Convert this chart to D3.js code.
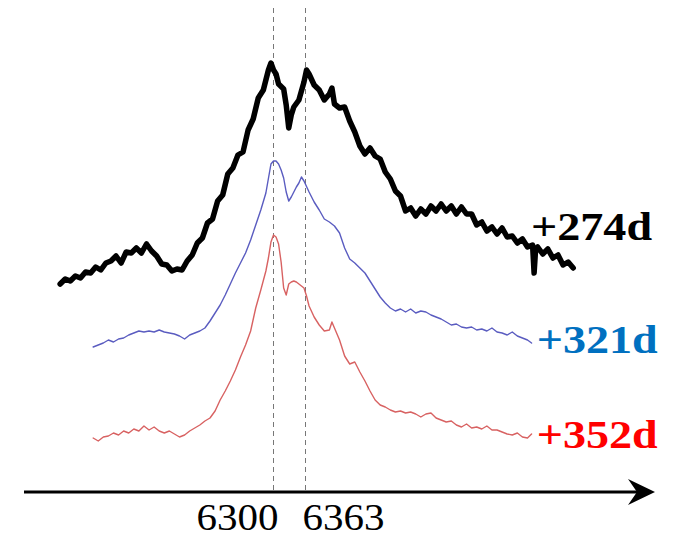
<!DOCTYPE html>
<html>
<head>
<meta charset="utf-8">
<script src="https://cdn.jsdelivr.net/npm/d3@7"></script>
<style>
  body { margin: 0; background: #fff; }
  svg { display: block; }
</style>
</head>
<body>
<script>
const svgWidth = 674; //Width of SVG.
const svgHeight = 539; //Height of SVG.

//Epochs shown, top to bottom.
const epochs = ["+274d", "+321d", "+352d"];
const epochColours = ["#000000", "#0070c0", "#ff0000"]; //Label colours.
const lineColours = ["#000000", "#5a5cc0", "#d86262"]; //Spectrum colours.

//Marked lines ([O I] doublet) and their tick labels.
const tickValues = [6300, 6363];
const tickLabels = ["6300", "6363"];

//Spectra: [wavelength (A), scaled flux + offset].
const spec274 = [[5880,2.08],[5890,2.13],[5900,2.11],[5910,2.16],[5920,2.14],[5930,2.20],[5940,2.19],[5950,2.25],
  [5960,2.22],[5970,2.29],[5980,2.31],[5990,2.36],[6000,2.29],[6010,2.40],[6020,2.39],[6030,2.44],[6040,2.39],
  [6050,2.48],[6060,2.41],[6070,2.36],[6080,2.28],[6090,2.27],[6100,2.21],[6110,2.23],[6120,2.22],[6130,2.31],
  [6140,2.37],[6150,2.49],[6160,2.54],[6170,2.69],[6180,2.73],[6190,2.91],[6200,2.97],[6210,3.18],[6220,3.24],
  [6230,3.37],[6240,3.40],[6250,3.62],[6260,3.73],[6270,3.94],[6280,4.02],[6290,4.22],[6295,4.29],[6300,4.22],
  [6305,4.18],[6310,4.08],[6320,4.03],[6325,3.87],[6330,3.64],[6335,3.77],[6340,3.85],[6350,3.92],[6360,4.10],
  [6365,4.22],[6370,4.18],[6380,4.07],[6390,4.02],[6400,3.92],[6410,3.98],[6415,4.04],[6420,3.88],[6430,3.84],
  [6440,3.85],[6450,3.71],[6460,3.60],[6470,3.46],[6480,3.38],[6490,3.44],[6500,3.36],[6510,3.33],[6520,3.20],
  [6530,3.13],[6540,3.01],[6550,2.96],[6560,2.81],[6570,2.84],[6580,2.76],[6590,2.83],[6600,2.78],[6610,2.86],
  [6620,2.81],[6630,2.88],[6640,2.81],[6650,2.86],[6660,2.78],[6670,2.85],[6680,2.78],[6690,2.78],[6700,2.67],
  [6710,2.70],[6720,2.61],[6730,2.65],[6740,2.58],[6750,2.64],[6760,2.55],[6770,2.56],[6780,2.49],[6790,2.53],
  [6800,2.45],[6810,2.47],[6813,2.19],[6816,2.43],[6820,2.45],[6830,2.38],[6840,2.43],[6850,2.34],[6860,2.37],
  [6870,2.27],[6880,2.30],[6890,2.24]];

const spec321 = [[5945,1.45],[5955,1.47],[5965,1.49],[5975,1.52],[5985,1.50],[5995,1.53],[6005,1.54],[6015,1.57],
  [6025,1.59],[6035,1.61],[6045,1.60],[6055,1.61],[6065,1.60],[6075,1.62],[6085,1.60],[6095,1.59],[6105,1.58],
  [6115,1.56],[6125,1.53],[6135,1.57],[6145,1.59],[6155,1.61],[6165,1.64],[6175,1.71],[6185,1.79],[6195,1.87],
  [6205,1.97],[6215,2.08],[6225,2.19],[6235,2.29],[6245,2.39],[6255,2.52],[6265,2.67],[6275,2.82],[6285,2.99],
  [6295,3.28],[6300,3.31],[6305,3.31],[6310,3.28],[6315,3.22],[6320,3.14],[6325,3.00],[6330,2.91],[6335,2.95],
  [6340,3.00],[6345,3.05],[6350,3.09],[6355,3.15],[6360,3.11],[6370,3.00],[6380,2.90],[6390,2.82],[6400,2.73],
  [6410,2.70],[6420,2.66],[6430,2.59],[6440,2.44],[6450,2.33],[6460,2.29],[6470,2.24],[6480,2.19],[6490,2.11],
  [6500,2.03],[6510,1.95],[6520,1.89],[6530,1.84],[6540,1.81],[6550,1.83],[6560,1.80],[6570,1.83],[6580,1.79],
  [6590,1.81],[6600,1.80],[6610,1.77],[6620,1.75],[6630,1.73],[6640,1.70],[6650,1.67],[6660,1.68],[6670,1.65],
  [6680,1.64],[6690,1.65],[6700,1.62],[6710,1.63],[6720,1.61],[6730,1.64],[6740,1.60],[6750,1.59],[6760,1.57],
  [6770,1.60],[6780,1.56],[6790,1.54],[6800,1.52],[6808,1.49]];

const spec352 = [[5945,0.54],[5955,0.51],[5965,0.55],[5975,0.56],[5985,0.59],[5995,0.57],[6005,0.61],[6015,0.59],
  [6025,0.63],[6035,0.61],[6045,0.66],[6055,0.62],[6065,0.65],[6075,0.61],[6085,0.59],[6095,0.61],[6105,0.58],
  [6115,0.55],[6125,0.57],[6135,0.61],[6145,0.64],[6155,0.67],[6165,0.71],[6175,0.74],[6185,0.81],[6195,0.92],
  [6205,1.01],[6215,1.11],[6225,1.22],[6235,1.35],[6245,1.47],[6255,1.61],[6265,1.84],[6275,2.02],[6285,2.21],
  [6290,2.34],[6295,2.50],[6300,2.57],[6305,2.55],[6310,2.48],[6315,2.30],[6320,2.04],[6325,1.97],[6330,2.08],
  [6335,2.10],[6340,2.11],[6345,2.10],[6350,2.08],[6355,2.06],[6360,2.04],[6365,1.96],[6370,1.86],[6380,1.75],
  [6390,1.67],[6400,1.61],[6410,1.62],[6415,1.70],[6420,1.64],[6430,1.52],[6440,1.36],[6450,1.28],[6460,1.30],
  [6470,1.20],[6480,1.11],[6490,1.01],[6500,0.92],[6510,0.87],[6520,0.85],[6530,0.82],[6540,0.80],[6550,0.81],
  [6560,0.79],[6570,0.80],[6580,0.78],[6590,0.75],[6600,0.78],[6610,0.79],[6620,0.74],[6630,0.72],[6640,0.70],
  [6650,0.71],[6660,0.67],[6670,0.65],[6680,0.68],[6690,0.64],[6700,0.65],[6710,0.63],[6720,0.66],[6730,0.62],
  [6740,0.62],[6750,0.60],[6760,0.58],[6770,0.57],[6780,0.59],[6790,0.55],[6800,0.54],[6808,0.58]];

const spectra = [spec274, spec321, spec352];
const lineWidths = [5.5, 1.4, 1.4]; //Oldest epoch drawn thick.

const xScale = d3.scaleLinear() //Wavelength to pixels.
                 .domain([5800, 6900])
                 .range([19.5, 578.3]);

const yScale = d3.scaleLinear() //Flux (with offsets) to pixels.
                 .domain([0, 4.8])
                 .range([492, 12]);

const axisY = yScale(0);

let svgContainer = d3.select("body")
                     .append("svg")
                     .attr("width", svgWidth)
                     .attr("height", svgHeight);

//Dashed markers at the doublet.
svgContainer.selectAll(".marker")
            .data(tickValues)
            .enter()
            .append("line")
            .attr("class", "marker")
            .attr("x1", (d) => xScale(d))
            .attr("x2", (d) => xScale(d))
            .attr("y1", 8)
            .attr("y2", axisY)
            .attr("stroke", "#777")
            .attr("stroke-width", 1)
            .attr("stroke-dasharray", "5,4");

const line = d3.line()
               .x((d) => xScale(d[0]))
               .y((d) => yScale(d[1]));

//Spectra.
svgContainer.selectAll(".spectrum")
            .data(spectra)
            .enter()
            .append("path")
            .attr("class", "spectrum")
            .attr("d", line)
            .attr("fill", "none")
            .attr("stroke", (d, i) => lineColours[i])
            .attr("stroke-width", (d, i) => lineWidths[i])
            .attr("stroke-linejoin", "round")
            .attr("stroke-linecap", "round");

//Epoch labels, placed just after the end of each spectrum.
const labelBaselines = [2.52, 1.39, 0.44]; //In flux units.
const labelStarts = [6807, 6818, 6818]; //In wavelength.
svgContainer.selectAll(".epoch")
            .data(epochs)
            .enter()
            .append("text")
            .attr("class", "epoch")
            .attr("x", (d, i) => xScale(labelStarts[i]))
            .attr("y", (d, i) => yScale(labelBaselines[i]))
            .attr("textLength", 121)
            .attr("lengthAdjust", "spacingAndGlyphs")
            .style("font-family", "'Liberation Serif', 'Times New Roman', serif")
            .style("font-weight", "bold")
            .style("font-size", "40px")
            .style("fill", (d, i) => epochColours[i])
            .text((d) => d);

//Wavelength axis with arrow.
svgContainer.append("line")
            .attr("x1", 24)
            .attr("x2", 645)
            .attr("y1", axisY)
            .attr("y2", axisY)
            .attr("stroke", "#000")
            .attr("stroke-width", 3);

svgContainer.append("path")
            .attr("d", `M655,${axisY} L628,${axisY - 13} L637,${axisY} L628,${axisY + 13} Z`)
            .attr("fill", "#000");

//Tick labels, either side of the dashed lines.
svgContainer.selectAll(".tick-label")
            .data(tickValues)
            .enter()
            .append("text")
            .attr("class", "tick-label")
            .attr("x", (d, i) => i == 0 ? xScale(d) + 5 : xScale(d) - 3)
            .attr("y", 530)
            .attr("text-anchor", (d, i) => i == 0 ? "end" : "start")
            .attr("textLength", 82)
            .attr("lengthAdjust", "spacingAndGlyphs")
            .style("font-family", "'Liberation Serif', 'Times New Roman', serif")
            .style("font-size", "37px")
            .style("fill", "#000")
            .text((d, i) => tickLabels[i]);
</script>
</body>
</html>
